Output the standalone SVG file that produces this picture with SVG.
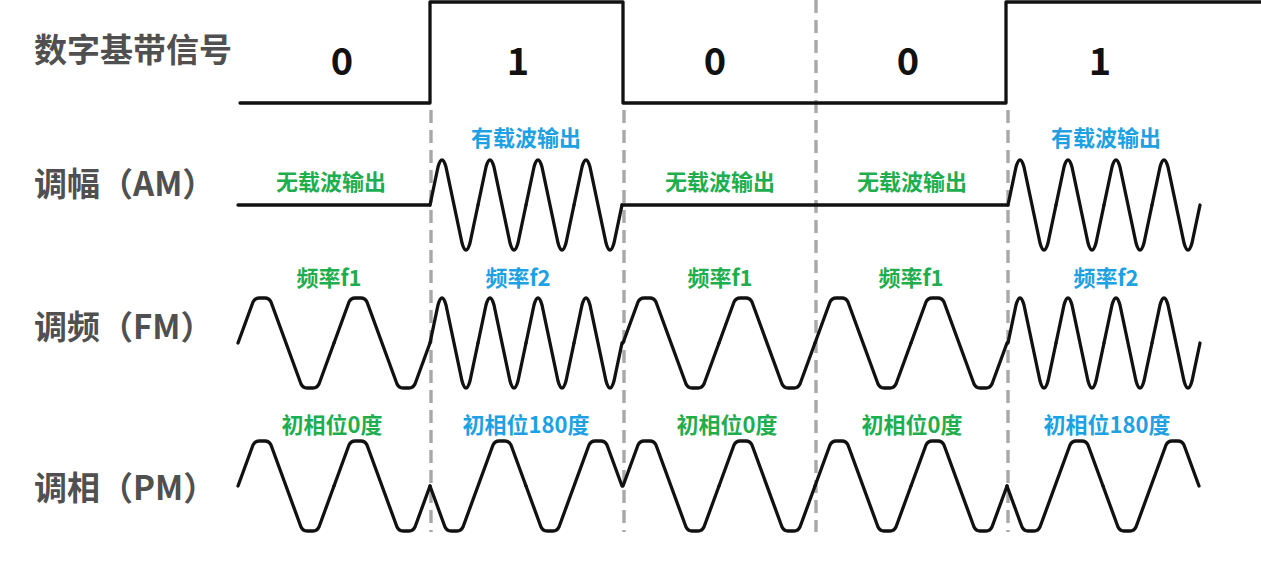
<svg xmlns="http://www.w3.org/2000/svg" xmlns:xlink="http://www.w3.org/1999/xlink" width="1261" height="566" viewBox="0 0 1261 566">
<style>
.wave{fill:none;stroke:#111;stroke-width:3.3;stroke-linecap:round;stroke-linejoin:round}
.div{stroke:#a8a8a8;stroke-width:3.4;stroke-dasharray:13 7;fill:none}
.row{font-family:"Noto Sans CJK SC","Noto Sans",sans-serif;font-weight:bold;font-size:33px;fill:#505050}
.bit{font-family:"Noto Sans CJK SC","Noto Sans",sans-serif;font-weight:bold;font-size:38px;fill:#111;text-anchor:middle}
.g{font-family:"Noto Sans CJK SC","Noto Sans",sans-serif;font-weight:bold;font-size:22px;fill:#1fae4d;text-anchor:middle}
.b{font-family:"Noto Sans CJK SC","Noto Sans",sans-serif;font-weight:bold;font-size:22px;fill:#1da1e3;text-anchor:middle}
</style>
<defs>
<path id="f1" class="wave" d="M0,0 L15,-41 Q17,-45 21,-45 L27,-45 Q31,-45 33,-41 L63,41 Q65,45 69,45 L75,45 Q79,45 81,41 L96,0"/>
<path id="f2" class="wave" d="M0,0 L8,-38 Q10,-45 12,-45 Q14,-45 16,-38 L32,38 Q34,45 36,45 Q38,45 40,38 L48,0"/>
</defs>
<rect width="1261" height="566" fill="#fff"/>
<g id="connectors">
<line class="div" x1="431" y1="110" x2="431" y2="532"/>
<line class="div" x1="624" y1="110" x2="624" y2="532"/>
<line class="div" x1="816" y1="0" x2="816" y2="532"/>
<line class="div" x1="1008" y1="110" x2="1008" y2="532"/>
</g>
<g id="row-labels">
<text class="row" x="34" y="62">数字基带信号</text>
<text class="row" x="34" y="196">调幅（AM）</text>
<text class="row" x="34" y="339">调频（FM）</text>
<text class="row" x="34" y="500">调相（PM）</text>
</g>
<g id="digital">
<path class="wave" d="M240,103 L430,103 L430,2 L623,2 L623,103 L1006,103 L1006,2 L1261,2"/>
<text class="bit" x="342" y="75">0</text>
<text class="bit" x="518" y="75">1</text>
<text class="bit" x="715" y="75">0</text>
<text class="bit" x="908" y="75">0</text>
<text class="bit" x="1100" y="75">1</text>
</g>
<g id="am">
<path class="wave" d="M238,205 L430,205"/>
<use href="#f2" x="430" y="205"/><use href="#f2" x="478" y="205"/><use href="#f2" x="526" y="205"/><use href="#f2" x="574" y="205"/>
<path class="wave" d="M622,205 L1008,205"/>
<use href="#f2" x="1008" y="205"/><use href="#f2" x="1056" y="205"/><use href="#f2" x="1104" y="205"/><use href="#f2" x="1152" y="205"/>
<text class="g" x="331" y="190">无载波输出</text>
<text class="b" x="526" y="146">有载波输出</text>
<text class="g" x="720" y="190">无载波输出</text>
<text class="g" x="912" y="190">无载波输出</text>
<text class="b" x="1106" y="146">有载波输出</text>
</g>
<g id="fm">
<use href="#f1" x="238" y="343"/><use href="#f1" x="334" y="343"/>
<use href="#f2" x="430" y="343"/><use href="#f2" x="478" y="343"/><use href="#f2" x="526" y="343"/><use href="#f2" x="574" y="343"/>
<use href="#f1" x="623" y="343"/><use href="#f1" x="719" y="343"/><use href="#f1" x="815" y="343"/><use href="#f1" x="911" y="343"/>
<use href="#f2" x="1008" y="343"/><use href="#f2" x="1056" y="343"/><use href="#f2" x="1104" y="343"/><use href="#f2" x="1152" y="343"/>
<text class="g" x="329" y="286">频率f1</text>
<text class="b" x="518" y="286">频率f2</text>
<text class="g" x="720" y="286">频率f1</text>
<text class="g" x="911" y="286">频率f1</text>
<text class="b" x="1106" y="286">频率f2</text>
</g>
<g id="pm">
<use href="#f1" transform="translate(238,486)"/><use href="#f1" transform="translate(334,486)"/>
<use href="#f1" transform="translate(430,486) scale(1,-1)"/><use href="#f1" transform="translate(526,486) scale(1,-1)"/>
<use href="#f1" transform="translate(623,486)"/><use href="#f1" transform="translate(719,486)"/><use href="#f1" transform="translate(815,486)"/><use href="#f1" transform="translate(911,486)"/>
<use href="#f1" transform="translate(1007,486) scale(1,-1)"/><use href="#f1" transform="translate(1103,486) scale(1,-1)"/>
<text class="g" x="332" y="433">初相位0度</text>
<text class="b" x="526" y="433">初相位180度</text>
<text class="g" x="727" y="433">初相位0度</text>
<text class="g" x="912" y="433">初相位0度</text>
<text class="b" x="1107" y="433">初相位180度</text>
</g>
</svg>
